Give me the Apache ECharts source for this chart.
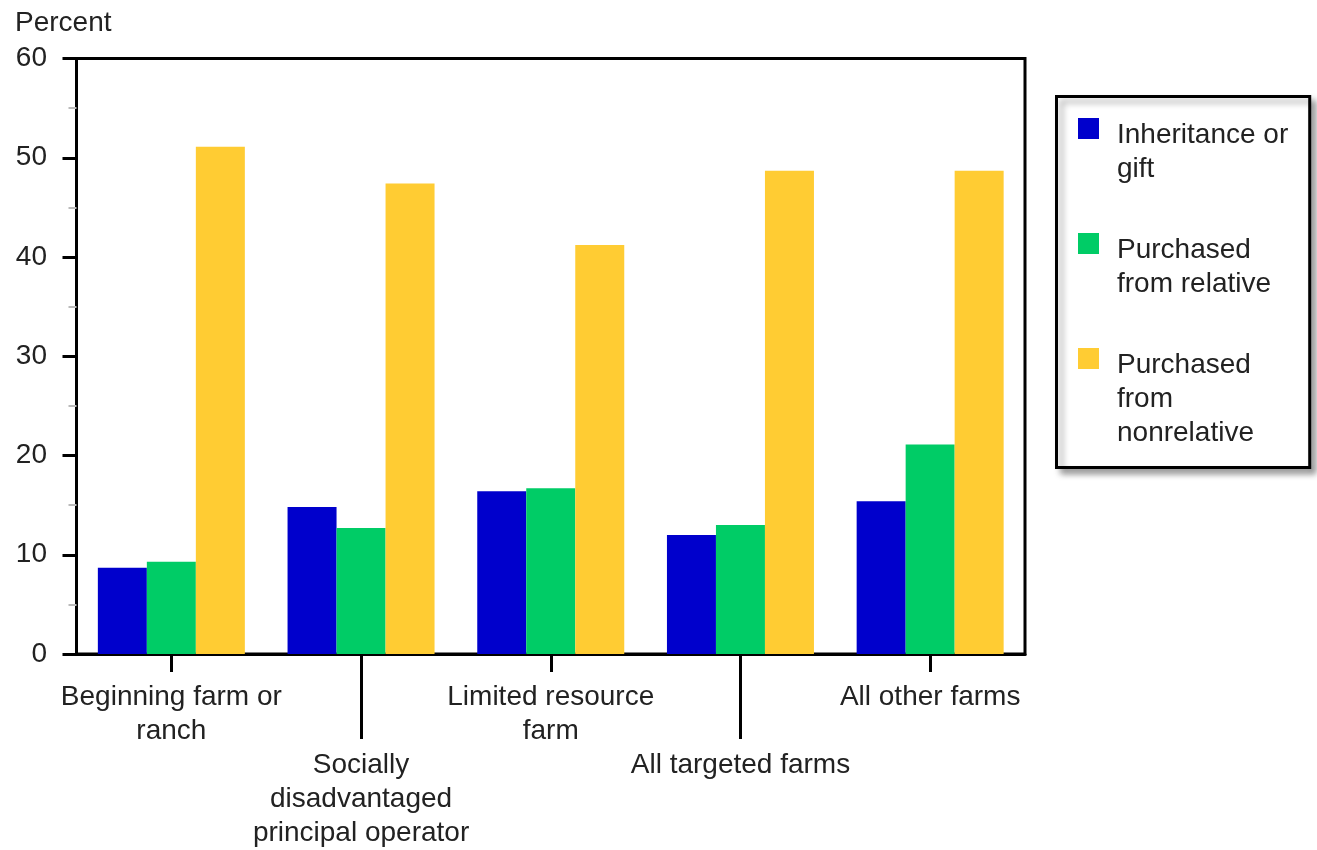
<!DOCTYPE html>
<html>
<head>
<meta charset="utf-8">
<script src="https://cdn.jsdelivr.net/npm/echarts@6/dist/echarts.min.js"></script>
<style>
html,body{margin:0;padding:0;background:#fff;}
#chart{width:1317px;height:850px;}
</style>
</head>
<body>
<div id="chart"></div>
<script>
const categories = [
  'Beginning farm or\nranch',
  'Socially\ndisadvantaged\nprincipal operator',
  'Limited resource\nfarm',
  'All targeted farms',
  'All other farms'
];
const seriesNames = ['Inheritance or\ngift', 'Purchased\nfrom relative', 'Purchased\nfrom\nnonrelative'];
const inheritance = [8.7, 14.8, 16.4, 12.0, 15.4];
const fromRelative = [9.3, 12.7, 16.7, 13.0, 21.1];
const fromNonrelative = [51.1, 47.4, 41.2, 48.7, 48.7];
const yTicks = { min: 0, max: 60, interval: 10 };
const colors = ['#0000CC', '#00CC66', '#FFCC33'];

const FONT = "'Liberation Sans', Arial, sans-serif";
const TXT = '#222';

const chart = echarts.init(document.getElementById('chart'));
const values = [inheritance, fromRelative, fromNonrelative];

const option = {
  animation: false,
  backgroundColor: '#fff',
  title: {
    text: 'Percent',
    left: 15, top: 6, padding: 0,
    textStyle: { fontFamily: FONT, fontSize: 28, fontWeight: 'normal', color: TXT, lineHeight: 34 }
  },
  grid: {
    left: 76.5, right: 292, top: 58.5, bottom: 196,
    show: true, borderColor: '#000', borderWidth: 3, backgroundColor: 'transparent'
  },
  legend: {
    orient: 'vertical',
    left: 1056.5, top: 96.5,
    align: 'left',
    padding: [21.5, 21.5, 17.5, 21.5],
    itemGap: 13,
    itemWidth: 21, itemHeight: 102,
    icon: 'path://M0,0h21v21h-21z M0,102h0.01v0.01h-0.01z',
    backgroundColor: '#fff',
    borderColor: '#000', borderWidth: 3,
    shadowColor: 'rgba(0,0,0,0.35)', shadowBlur: 6, shadowOffsetX: 5, shadowOffsetY: 5,
    selectedMode: false,
    formatter: function (name) {
      return name.split('\n').length < 3 ? name + '\n ' : name;
    },
    textStyle: { fontFamily: FONT, fontSize: 28, lineHeight: 34, color: TXT, padding: [0, 0, 0, 13] },
    data: seriesNames
  },
  xAxis: [
    {
      type: 'category', data: categories, position: 'bottom',
      axisLine: { show: true, lineStyle: { color: '#000', width: 3 } },
      axisTick: { show: true, alignWithLabel: true, length: 18, interval: function (i) { return i % 2 === 0; }, lineStyle: { color: '#000', width: 3 } },
      axisLabel: { interval: function (i) { return i % 2 === 0; }, margin: 26, fontFamily: FONT, fontSize: 28, lineHeight: 34, color: TXT },
      splitLine: { show: false }
    },
    {
      type: 'category', data: categories, position: 'bottom', gridIndex: 0,
      axisLine: { show: false },
      axisTick: { show: true, alignWithLabel: true, length: 85, interval: function (i) { return i % 2 === 1; }, lineStyle: { color: '#000', width: 3 } },
      axisLabel: { interval: function (i) { return i % 2 === 1; }, margin: 94, fontFamily: FONT, fontSize: 28, lineHeight: 34, color: TXT },
      splitLine: { show: false }
    }
  ],
  yAxis: {
    type: 'value', min: yTicks.min, max: yTicks.max, interval: yTicks.interval,
    axisLine: { show: true, lineStyle: { color: '#000', width: 3 } },
    axisTick: { show: true, length: 14, lineStyle: { color: '#000', width: 3 } },
    minorTick: { show: true, splitNumber: 2, length: 8, lineStyle: { color: '#bbbbbb', width: 2 } },
    axisLabel: { margin: 29.5, fontFamily: FONT, fontSize: 28, color: TXT, padding: [6, 0, 0, 0] },
    splitLine: { show: false }
  },
  series: seriesNames.map(function (n, i) {
    return {
      name: n, type: 'bar', xAxisIndex: 0,
      data: values[i],
      barWidth: 49, barGap: '0%',
      itemStyle: { color: colors[i] }
    };
  })
};
chart.setOption(option);
</script>
</body>
</html>
